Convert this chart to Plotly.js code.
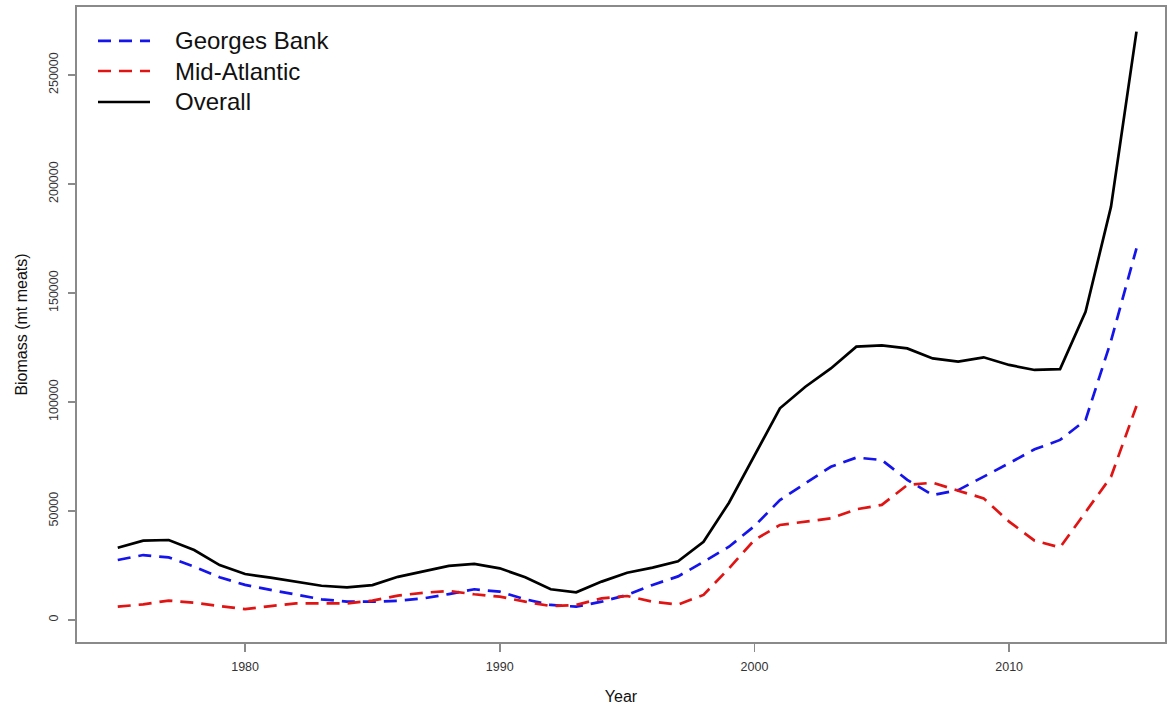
<!DOCTYPE html>
<html>
<head>
<meta charset="utf-8">
<script src="https://cdn.plot.ly/plotly-3.0.1.min.js"></script>
<style>html,body{margin:0;padding:0;background:#fff;}#chart{width:1170px;height:709px;}</style>
</head>
<body>
<div id="chart"></div>
<script>
const years = [1975,1976,1977,1978,1979,1980,1981,1982,1983,1984,1985,1986,1987,1988,1989,1990,1991,1992,1993,1994,1995,1996,1997,1998,1999,2000,2001,2002,2003,2004,2005,2006,2007,2008,2009,2010,2011,2012,2013,2014,2015];
const georgesBank = [27500,29800,28700,24500,19600,16100,13800,11500,9500,8400,8400,8800,9900,11900,14100,13000,9500,6900,6100,8400,11500,16100,20000,26700,33600,43100,55000,62700,70300,74500,73400,64300,57300,59600,65700,71900,78300,82600,91700,128000,170500];
const midAtlantic = [6100,7200,8900,7900,6400,5000,6400,7600,7600,7600,8900,11200,12500,13300,11800,10700,8400,6400,6900,9900,11000,8400,7100,11500,23700,36700,43600,45100,46600,50800,52800,61900,63000,59300,55800,45100,36400,33300,49700,65700,98200];
const overall = [33170,36400,36700,32100,25200,21100,19400,17600,15700,15000,16000,19800,22200,24800,25700,23700,19600,14100,12700,17600,21700,24000,26900,35900,53800,75700,97100,107000,115400,125400,126000,124600,120000,118500,120500,117000,114700,115100,141400,189600,269900];
const seriesNames = ["Georges Bank","Mid-Atlantic","Overall"];
const yTicks = [0,50000,100000,150000,200000,250000];
const xTicks = [1980,1990,2000,2010];

const FONT = "Liberation Sans, Arial, sans-serif";
const lineStyles = [
  {color: "rgb(20,20,235)", width: 2.7, dash: "13px,8px"},
  {color: "rgb(225,20,20)", width: 2.7, dash: "13px,8px"},
  {color: "#000000", width: 2.7, dash: "solid"}
];
const seriesValues = [georgesBank, midAtlantic, overall];

const traces = seriesValues.map((vals, i) => ({
  x: years, y: vals, name: seriesNames[i], mode: "lines",
  line: lineStyles[i], showlegend: false
}));

// Manual legend (R-style, no box)
const legendRowsY = [0.9465, 0.8992, 0.8504];
const shapes = [];
const annotations = [];
seriesNames.forEach((nm, i) => {
  shapes.push({type: "line", xref: "paper", yref: "paper",
    x0: 0.0193, x1: 0.0671, y0: legendRowsY[i], y1: legendRowsY[i],
    line: lineStyles[i]});
  annotations.push({xref: "paper", yref: "paper", x: 0.0882, y: legendRowsY[i],
    xanchor: "left", yanchor: "middle", showarrow: false, text: nm,
    font: {family: FONT, size: 24, color: "#111"}});
});

const layout = {
  width: 1170, height: 709,
  margin: {l: 77, r: 5, t: 7, b: 67},
  paper_bgcolor: "#ffffff", plot_bgcolor: "#ffffff",
  font: {family: FONT, color: "#222"},
  showlegend: false,
  shapes: shapes,
  annotations: annotations,
  xaxis: {
    range: [1973.4, 2016.12], tickvals: xTicks, tickformat: "d",
    showgrid: false, zeroline: false,
    showline: true, mirror: true, linecolor: "#8a8a8a", linewidth: 2,
    ticks: "outside", ticklen: 8, tickcolor: "#8a8a8a", tickwidth: 1.5,
    ticklabelstandoff: 4,
    tickfont: {family: FONT, size: 12.5, color: "#333"},
    title: {text: "Year", font: {family: FONT, size: 16, color: "#111"}, standoff: 18}
  },
  yaxis: {
    range: [-10092, 281193], tickvals: yTicks, tickformat: "d", tickangle: -90,
    showgrid: false, zeroline: false,
    showline: true, mirror: true, linecolor: "#8a8a8a", linewidth: 2,
    ticks: "outside", ticklen: 7, tickcolor: "#8a8a8a", tickwidth: 1.5,
    ticklabelstandoff: 5,
    tickfont: {family: FONT, size: 12.5, color: "#333"},
    title: {text: "Biomass (mt meats)", font: {family: FONT, size: 16, color: "#111"}, standoff: 15}
  }
};

Plotly.newPlot("chart", traces, layout, {displayModeBar: false, staticPlot: true});
</script>
</body>
</html>
